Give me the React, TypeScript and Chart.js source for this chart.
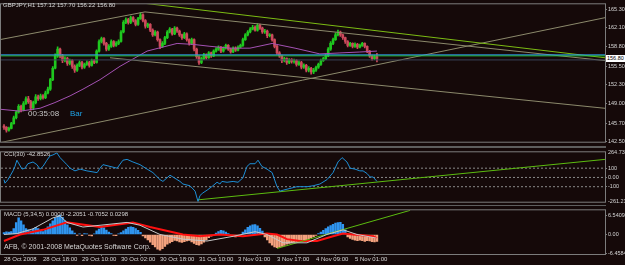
import React, { useEffect, useRef } from "react";
import { Chart, registerables } from "chart.js";
Chart.register(...registerables);

const FONT = '"Liberation Sans", Arial, sans-serif';
const BG = "#150909";
const TXT = "#d6d6d6";
const FRAME = "#7c7c7c";

// ---- price panel (GBPJPY H1) ----
const firstOpen = 145.2;
const closes = [
  144.97,144.48,144.80,145.62,146.61,147.59,148.58,147.92,149.07,149.89,
  149.39,148.25,149.23,150.21,149.89,150.38,150.05,150.87,151.53,153.17,
  155.13,157.26,158.41,157.26,156.44,156.77,155.95,156.44,155.46,154.80,
  155.62,156.12,155.30,155.79,156.12,155.62,156.44,156.12,158.08,159.72,
  160.21,159.39,158.41,158.90,159.72,159.07,159.39,159.72,161.36,163.00,
  163.49,163.00,163.82,163.33,162.67,163.66,164.31,163.33,162.35,162.67,
  161.69,160.87,161.36,160.05,158.90,159.39,160.38,161.36,161.85,161.03,
  162.02,161.53,160.87,160.38,161.03,160.05,159.39,160.05,158.41,157.10,
  156.12,156.77,157.43,156.94,157.76,157.26,158.08,158.41,158.74,158.08,
  158.58,159.07,158.41,157.92,158.58,158.25,158.74,159.07,160.05,160.87,
  161.36,161.85,162.18,161.69,162.51,162.02,161.36,161.53,160.71,160.87,
  160.05,158.90,157.76,157.26,156.44,156.77,156.12,156.61,156.28,156.44,
  155.79,156.12,155.30,155.62,154.80,155.13,154.48,154.80,155.30,155.79,
  156.44,156.77,157.26,158.41,159.39,160.05,160.87,161.36,160.87,160.38,
  159.72,159.07,159.39,158.90,159.23,158.74,159.07,159.39,158.90,158.08,
  157.26,156.77,157.12,156.80,
];
const highs = [
  145.45,145.10,145.00,145.85,146.90,147.80,148.90,148.80,149.40,150.20,
  150.30,149.60,149.50,150.60,150.50,150.70,150.60,151.20,151.90,153.40,
  155.40,157.60,158.80,158.60,157.50,157.10,157.00,156.70,156.60,155.70,
  155.90,156.40,156.30,156.00,156.40,156.30,156.70,156.60,158.30,160.00,
  160.50,160.40,159.60,159.20,160.00,159.90,159.70,160.00,161.60,163.30,
  163.80,163.70,164.10,164.00,163.50,163.90,164.70,164.50,163.50,162.90,
  162.80,161.90,161.60,161.50,160.20,159.70,160.60,161.60,162.10,162.00,
  162.30,162.20,161.70,161.00,161.30,161.20,160.20,160.30,160.20,158.60,
  157.30,157.00,157.70,157.60,158.00,157.90,158.30,158.70,159.00,158.90,
  158.80,159.30,159.20,158.60,158.80,158.80,159.00,159.30,160.30,161.10,
  161.60,162.10,162.50,162.40,162.80,162.70,162.20,161.80,161.70,161.10,
  161.00,160.20,159.10,158.00,157.40,157.00,156.90,156.80,156.80,156.70,
  156.60,156.40,156.30,155.90,155.80,155.40,155.30,155.10,155.50,156.00,
  156.70,157.00,157.50,158.70,159.70,160.30,161.20,161.70,161.50,161.00,
  160.50,159.90,159.60,159.50,159.50,159.40,159.30,159.60,159.50,159.00,
  158.20,157.40,157.40,157.70,
];
const lows = [
  144.60,144.15,144.30,144.70,145.50,146.40,147.40,147.60,147.80,148.90,
  149.10,147.90,148.00,149.00,149.60,149.70,149.80,149.90,150.70,151.30,
  153.00,155.00,157.00,156.90,156.10,156.20,155.60,155.70,155.10,154.40,
  154.60,155.40,155.00,155.10,155.60,155.30,155.50,155.90,156.00,157.90,
  159.50,159.10,158.10,158.20,158.70,158.80,158.90,159.20,159.60,161.20,
  162.80,162.70,162.80,163.10,162.40,162.50,163.50,163.10,162.00,162.10,
  161.40,160.60,160.70,159.80,158.50,158.70,159.20,160.20,161.20,160.80,
  160.90,161.30,160.60,160.10,160.20,159.80,159.10,159.20,158.10,156.80,
  155.80,155.90,156.60,156.70,156.80,157.00,157.10,157.90,158.20,157.80,
  157.90,158.40,158.20,157.70,157.80,158.00,158.10,158.60,158.90,159.90,
  160.70,161.20,161.70,161.50,161.50,161.80,161.10,161.10,160.40,160.50,
  159.80,158.60,157.50,157.00,156.10,156.20,155.80,155.90,156.00,156.00,
  155.50,155.60,155.00,155.10,154.50,154.50,154.10,154.20,154.60,155.10,
  155.60,156.30,156.60,157.10,158.20,159.20,159.90,160.70,160.60,160.10,
  159.40,158.80,158.90,158.60,158.70,158.50,158.60,158.90,158.60,157.80,
  157.00,156.50,156.60,156.22,
];
const priceTicks = [165.3, 162.1, 158.8, 155.5, 152.3, 149.0, 145.7, 142.5];
const PRICE_MIN = 142.5;
const PRICE_MAX = 166.12;

const maIdx = [-1.6, 6.6, 14.8, 20.9, 27.1, 32.4, 39.4, 47.6, 58.7, 71, 77.5, 84.5, 92.7, 100.9, 110, 119.4, 129.6, 137.8, 146, 153];
const maVal = [148.08, 147.75, 148.25, 149.23, 150.38, 151.53, 153.17, 155.46, 158.08, 159.39, 159.23, 158.9, 158.58, 158.58, 159.39, 158.58, 157.59, 157.76, 157.92, 158.08];

// trend lines: [barFrom, valueFrom, barTo, valueTo]
const trendGrayA = [-1.64, 160.05, 57.85, 164.81];
const trendGrayB = [57.85, 164.81, 246.56, 156.44];
const trendGreen = [57.85, 166.28, 246.56, 156.93];
const trendRise = [-1.64, 142.34, 246.56, 163.82];
const trendFall = [43.5, 156.93, 246.56, 148.24];
const levelCyan = 157.43;
const levelGreen = 157.26;
const levelBid = 156.56;

// ---- CCI(30) ----
const cciIdx = [0,0.4,1.6,3.7,4.5,5.3,5.7,7.4,8.6,9.8,11.9,13.5,14.8,16,17.6,18.9,20.1,21.7,23,25.8,27.1,29.1,31.2,34,38.2,39.4,40.6,43.5,46.4,48.8,50.5,52.9,55.8,58.7,61.1,64,65.2,68.1,69.3,72.2,73.4,76.3,78.4,79.6,80.4,81.6,83.3,85.7,87.4,88.6,89.4,91.5,94,96,98,99.7,100.9,103,104.2,105.8,107.9,110,112,113.2,114.5,117.3,120.2,124.3,126.8,129.6,132.5,135,137,138.7,140.7,142,144,146,147.3,148.9,150.2,151.4,153];
const cciVal = [-24,-62,-24,71,119,186,167,90,100,148,167,138,90,119,186,233,243,264.73,214,138,100,71,90,71,52,100,138,119,100,186,195,167,138,90,52,-24,-43,24,5,-43,-71,-90,-148,-261.22,-195,-167,-138,-90,-52,-71,-43,-52,-43,-52,-5,119,148,148,186,119,90,52,-100,-148,-138,-119,-100,-100,-90,-71,-24,52,167,214,167,100,90,71,71,43,5,5,-42.85];
const cciLevels = [100, 0, -100];
const cciTrend = [79.2, -243, 246.56, 195];
const CCI_MIN = -262;
const CCI_MAX = 271.4;

// ---- MACD (5,34,5) ----
const macdHist = [
  0.6,0.9,0.8,1.0,2.0,4.0,5.6,4.6,3.2,2.0,
  1.6,1.2,1.8,2.4,2.0,1.4,1.0,1.6,2.6,3.6,
  4.6,5.6,6.3,6.54,5.8,4.6,3.2,2.2,1.2,0.5,
  -0.3,0.2,-0.4,0.3,0.2,-0.3,-0.5,0.2,1.2,1.8,
  2.4,2.2,1.5,0.8,0.3,-0.3,-0.4,0.2,0.6,1.2,
  1.8,2.4,2.6,2.4,2.0,1.4,0.7,-0.5,-1.2,-1.8,
  -2.6,-3.4,-4.2,-4.9,-5.3,-4.8,-4.0,-3.3,-2.8,-2.4,
  -2.0,-2.2,-2.5,-2.7,-2.4,-2.2,-2.0,-2.5,-3.0,-3.4,
  -3.6,-3.2,-2.6,-1.8,-1.1,-0.6,-0.2,0.5,1.0,1.4,
  1.2,0.8,0.3,-0.3,-0.6,-0.8,-0.5,-0.2,0.8,1.6,
  2.4,2.9,3.2,3.3,2.9,2.1,1.1,-0.8,-1.8,-2.8,
  -3.6,-4.2,-4.4,-4.3,-4.0,-3.7,-3.3,-3.0,-2.8,-2.6,
  -2.4,-2.3,-2.2,-2.0,-1.8,-1.5,-1.1,-0.7,-0.3,0.3,
  0.8,1.4,2.0,2.6,3.0,3.4,3.8,4.0,4.1,3.4,
  1.6,-0.8,-1.3,-1.7,-1.9,-2.1,-1.9,-2.1,-2.3,-2.1,
  -2.2,-2.4,-2.5,-2.3,
];
const sigIdx = [0, 6.6, 16, 25.8, 39.4, 52.9, 59.9, 73.4, 80.4, 88.6, 98, 107.9, 112, 116.1, 121.4, 128.4, 135, 139.1, 143.2, 151.4, 153];
const sigVal = [-2.2, 0, 1.56, 4.06, 2.5, 4.06, 2.5, 0, -0.62, 0, -0.62, 0.31, 0, -1.56, -2.2, -2.2, -0.62, 0.31, 0, -0.62, -1.25];
const macdIdx = [0, 5.3, 11.9, 20.1, 23, 25.8, 32.4, 39.4, 50.5, 55.8, 64, 73.4, 83.3, 94, 103, 107.9, 114.5, 124.3, 132.5, 139.1, 144.8, 153];
const macdVal = [0, 0.31, 1.9, 5.6, 6.25, 4.06, 2.5, 3.1, 4.06, 3.1, 0, -1.56, -2.2, -0.62, 0.94, 0, -2.8, -2.8, 0, 1.56, 0, -1.25];
const macdTrend = [112, -4.69, 166.6, 8.1];
const macdTicks = [6.5409, 0, -6.4584];
const MACD_MIN = -6.5625;
const MACD_MAX = 8.125;

// ---- time axis ----
const timeLabels = ["28 Oct 2008", "28 Oct 18:00", "29 Oct 10:00", "30 Oct 02:00", "30 Oct 18:00", "31 Oct 10:00", "3 Nov 01:00", "3 Nov 17:00", "4 Nov 09:00", "5 Nov 01:00"];
const labelStep = 16;
const X_MIN = -1.23;
const X_MAX = 246.56;

const opens = closes.map((c, i) => (i === 0 ? firstOpen : closes[i - 1]));
const BULL = "#1fc81f";
const BEAR = "#cc4a5c";
const candleColors = closes.map((c, i) => (c >= opens[i] ? BULL : BEAR));

const pts = (xs: number[], ys: number[]) => xs.map((x, i) => ({ x, y: ys[i] }));
const seg = (s: number[]) => [{ x: s[0], y: s[1] }, { x: s[2], y: s[3] }];
const hline = (v: number) => [{ x: X_MIN, y: v }, { x: X_MAX, y: v }];

const lineDs = (data: any[], color: string, width = 1, order = 0, dash: number[] = []) => ({
  type: "line" as const,
  data,
  borderColor: color,
  borderWidth: width,
  borderDash: dash,
  pointRadius: 0,
  tension: 0,
  fill: false,
  order,
});

const frame = {
  id: "frame",
  afterDatasetsDraw(chart: any) {
    const { ctx, chartArea: a } = chart;
    ctx.save();
    ctx.strokeStyle = FRAME;
    ctx.lineWidth = 1;
    ctx.strokeRect(a.left - 0.5, a.top - 0.5, a.right - a.left + 1, a.bottom - a.top + 1);
    ctx.restore();
  },
};

const xScale = (show: boolean) => ({
  type: "linear",
  min: X_MIN,
  max: X_MAX,
  display: show,
  offset: false,
  grid: { display: show, drawOnChartArea: false, drawTicks: true, tickLength: 2, color: FRAME },
  border: { display: false },
  ticks: {
    display: show,
    autoSkip: false,
    maxRotation: 0,
    align: "start",
    padding: 0,
    color: TXT,
    font: { size: 6, family: FONT },
    callback: (v: number) => timeLabels[Math.round(v / labelStep)] ?? "",
  },
  afterBuildTicks: (s: any) => {
    s.ticks = timeLabels.map((_, k) => ({ value: k * labelStep }));
  },
  afterFit: (s: any) => {
    s.height = show ? 11 : 0;
  },
});

const yScale = (min: number, max: number, ticks: number[], fmt: (v: number) => string) => ({
  type: "linear",
  position: "right",
  min,
  max,
  grid: { drawOnChartArea: false, drawTicks: true, tickLength: 2, color: FRAME },
  border: { display: false },
  ticks: { color: TXT, font: { size: 5.5, family: FONT }, padding: 1, autoSkip: false, callback: fmt },
  afterBuildTicks: (s: any) => {
    s.ticks = ticks.map((v) => ({ value: v }));
  },
  afterFit: (s: any) => {
    s.width = 20;
  },
});

const baseOptions = (scales: any, bottomPad: number) => ({
  responsive: false,
  animation: false,
  events: [],
  layout: { padding: { left: 1, top: 1, right: 0, bottom: bottomPad } },
  plugins: { legend: { display: false }, tooltip: { enabled: false } },
  scales,
});

function mainConfig(): any {
  return {
    type: "bar",
    data: {
      datasets: [
        lineDs(hline(levelCyan), "#2f9be8", 1, 0),
        lineDs(hline(levelGreen), "#27d027", 1, 0),
        lineDs(hline(levelBid), "#3a4258", 1, 0),
        lineDs(seg(trendGrayA), "#8c8a6c", 1, 0),
        lineDs(seg(trendGrayB), "#8c8a6c", 1, 0),
        lineDs(seg(trendGreen), "#7cbc14", 1, 0),
        lineDs(seg(trendRise), "#8c8a6c", 1, 0),
        lineDs(seg(trendFall), "#8c8a6c", 1, 0),
        lineDs(pts(maIdx, maVal), "#a452b4", 1, 0),
        {
          type: "bar",
          data: closes.map((c, i) => ({ x: i, y: [opens[i], c] })),
          backgroundColor: candleColors,
          borderWidth: 0,
          barThickness: 2,
          minBarLength: 1,
          grouped: false,
          order: 1,
        },
        {
          type: "bar",
          data: closes.map((_, i) => ({ x: i, y: [lows[i], highs[i]] })),
          backgroundColor: candleColors,
          borderWidth: 0,
          barThickness: 1,
          grouped: false,
          order: 2,
        },
      ],
    },
    options: baseOptions(
      { x: xScale(false), y: yScale(PRICE_MIN, PRICE_MAX, priceTicks, (v) => v.toFixed(2)) },
      1
    ),
    plugins: [frame],
  };
}

function cciConfig(): any {
  return {
    type: "line",
    data: {
      datasets: [
        lineDs(pts(cciIdx, cciVal), "#1d8fd6", 1, 0),
        lineDs(seg(cciTrend), "#5cbc10", 1, 0),
        ...cciLevels.map((v) => lineDs(hline(v), "#8a8a8a", 1, 1, [2, 2])),
      ],
    },
    options: baseOptions(
      { x: xScale(false), y: yScale(CCI_MIN, CCI_MAX, cciLevels, (v) => (v === 0 ? "0.00" : String(v))) },
      1
    ),
    plugins: [frame],
  };
}

function macdConfig(): any {
  return {
    type: "bar",
    data: {
      datasets: [
        lineDs(pts(macdIdx, macdVal), "#c8c8c8", 1, 0),
        lineDs(pts(sigIdx, sigVal), "#ff1010", 2, 1),
        lineDs(seg(macdTrend), "#5cbc10", 1, 0),
        {
          type: "bar",
          data: macdHist.map((v, i) => ({ x: i, y: v })),
          backgroundColor: macdHist.map((v) => (v >= 0 ? "#2f95f0" : "#f4a27e")),
          borderWidth: 0,
          barThickness: 1.8,
          grouped: false,
          order: 2,
        },
      ],
    },
    options: baseOptions(
      {
        x: xScale(true),
        y: yScale(MACD_MIN, MACD_MAX, macdTicks, (v) => (v === 0 ? "0.00" : v.toFixed(4))),
      },
      0
    ),
    plugins: [frame],
  };
}

const txt = (left: number, top: number, size: number, color: string, extra: any = {}) => ({
  position: "absolute" as const,
  left,
  top,
  fontSize: size,
  lineHeight: 1,
  color,
  whiteSpace: "nowrap" as const,
  fontFamily: FONT,
  ...extra,
});

export default function App() {
  const r1 = useRef<HTMLCanvasElement>(null);
  const r2 = useRef<HTMLCanvasElement>(null);
  const r3 = useRef<HTMLCanvasElement>(null);

  useEffect(() => {
    document.body.style.margin = "0";
    document.body.style.background = BG;
    const charts = [
      new Chart(r1.current as HTMLCanvasElement, mainConfig()),
      new Chart(r2.current as HTMLCanvasElement, cciConfig()),
      new Chart(r3.current as HTMLCanvasElement, macdConfig()),
    ];
    return () => charts.forEach((c) => c.destroy());
  }, []);

  return (
    <div style={{ position: "relative", width: 625, height: 265, background: BG, overflow: "hidden" }}>
      <div style={{ position: "absolute", left: 0, top: 146, width: 606, height: 2, background: "#5e5e5e" }} />
      <div style={{ position: "absolute", left: 0, top: 205, width: 606, height: 1, background: "#5e5e5e" }} />
      <canvas ref={r1} width={625} height={146} style={{ position: "absolute", left: 0, top: 0 }} />
      <canvas ref={r2} width={625} height={58} style={{ position: "absolute", left: 0, top: 148 }} />
      <canvas ref={r3} width={625} height={59} style={{ position: "absolute", left: 0, top: 206 }} />

      <span style={txt(3, 2, 6, TXT)}>GBPJPY,H1 157.12 157.70 156.22 156.80</span>
      <span style={txt(28, 110, 8, "#c4c4c4")}>00:35:08</span>
      <span style={txt(70, 110, 8, "#1ea2e6")}>Bar</span>
      <span
        style={txt(606, 55, 5.5, "#000", {
          background: "#ffffff",
          width: 19,
          height: 7,
          lineHeight: "7px",
          paddingLeft: 1,
          boxSizing: "border-box",
        })}
      >
        156.80
      </span>
      <span style={txt(4, 151, 6, TXT)}>CCI(30) -42.8526</span>
      <span style={txt(608, 150, 5.5, TXT)}>264.7335</span>
      <span style={txt(608, 199, 5.5, TXT)}>-261.2177</span>
      <span style={txt(4, 211, 6, TXT)}>MACD (5,34,5) 0.0000 -2.2051 -0.7052 0.0298</span>
      <span style={txt(4, 243, 7, TXT)}>AFB, © 2001-2008 MetaQuotes Software Corp.</span>
    </div>
  );
}
